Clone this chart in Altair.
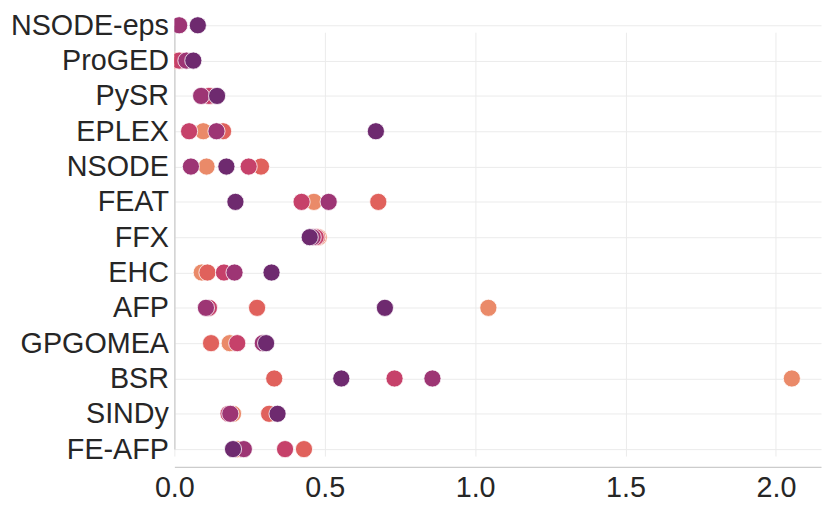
import altair as alt
import pandas as pd

methods = ["NSODE-eps", "ProGED", "PySR", "EPLEX", "NSODE", "FEAT", "FFX",
           "EHC", "AFP", "GPGOMEA", "BSR", "SINDy", "FE-AFP"]

levels = ["0", "0.001", "0.01", "0.05", "0.1"]
colors = ["#ea8a69", "#e0615c", "#c6416a", "#9d3574", "#6e2a6f"]

orange = [None, 0.005, 0.12, 0.096, 0.107, 0.464, 0.48, 0.091, 1.044, 0.184, 2.053, 0.195, 0.21]
red = [None, 0.025, 0.12, 0.162, 0.288, 0.678, 0.475, 0.11, 0.275, 0.122, 0.332, 0.315, 0.431]
crimson = [None, 0.016, 0.115, 0.049, 0.247, 0.423, 0.47, 0.165, 0.115, 0.209, 0.732, 0.18, 0.368]
magenta = [0.016, 0.04, 0.089, 0.14, 0.055, 0.513, 0.46, 0.20, 0.105, 0.294, 0.858, 0.186, 0.231]
purple = [0.078, 0.063, 0.142, 0.670, 0.173, 0.203, 0.450, 0.323, 0.70, 0.305, 0.555, 0.343, 0.195]

series = [orange, red, crimson, magenta, purple]
rows = []
for lvl, vals in zip(levels, series):
    for m, v in zip(methods, vals):
        if v is not None:
            rows.append({"method": m, "value": v, "level": lvl})
df = pd.DataFrame(rows)

font = "Liberation Sans"

chart = alt.Chart(df).mark_circle(
    size=300, opacity=1, stroke="white", strokeWidth=0.8, clip=True
).encode(
    x=alt.X("value:Q", title=None,
            scale=alt.Scale(domain=[0, 2.15], nice=False, zero=False),
            axis=alt.Axis(values=[0, 0.5, 1.0, 1.5, 2.0], format=".1f",
                          labelFontSize=29, labelFont=font, labelColor="#262626",
                          ticks=False, labelPadding=7, domainColor="#cccccc",
                          domainWidth=1.25, gridColor="#ebebeb", gridWidth=1,
                          labelFlush=False)),
    y=alt.Y("method:N", title=None, sort=methods,
            scale=alt.Scale(range=[11, 439], padding=0),
            axis=alt.Axis(labelFontSize=29, labelFont=font, labelColor="#262626",
                          ticks=False, labelPadding=6, domainColor="#cccccc",
                          domainWidth=1.25, grid=True, gridColor="#ebebeb",
                          gridWidth=1, labelLimit=300)),
    color=alt.Color("level:N", scale=alt.Scale(domain=levels, range=colors), legend=None),
).properties(
    width=653, height=457,
    autosize=alt.AutoSizeParams(type="none"),
    padding={"left": 168, "top": 4, "right": 2, "bottom": 38},
).configure_view(
    stroke=None
)

chart.save("out.html", embed_options={"renderer": "svg", "actions": False})
